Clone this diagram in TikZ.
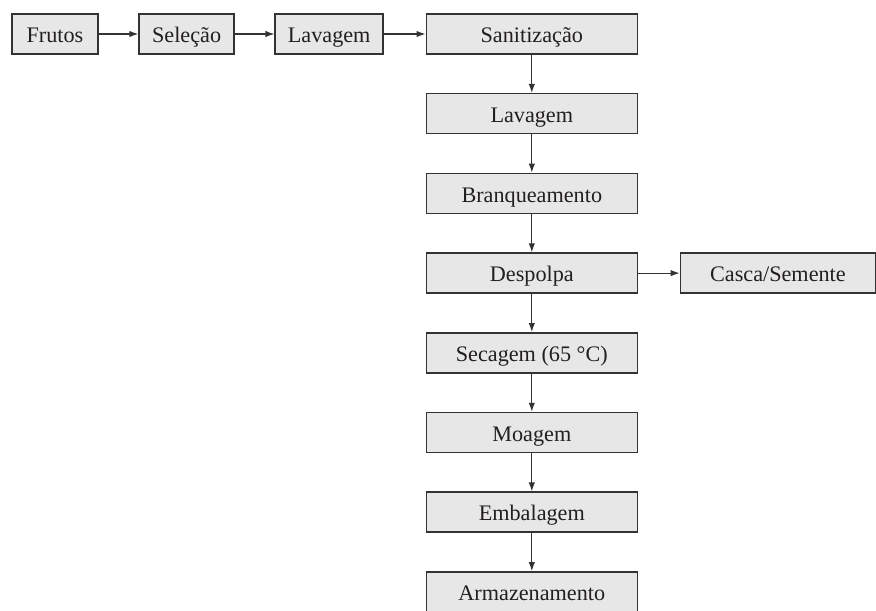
\documentclass[tikz,border=0pt]{standalone}
\usepackage{fontspec}
\setmainfont{Liberation Serif}
\usetikzlibrary{positioning, arrows.meta}
\definecolor{boxFill}{HTML}{E7E7E7}
\definecolor{boxLine}{HTML}{333333}
\definecolor{ink}{HTML}{231F20}
\tikzset{
    Box/.style = {
        draw=boxLine, fill=boxFill, line width=0.75pt,
        text=ink, inner sep=0pt,
        text height=10pt, text depth=1.3pt,
        minimum width=#1, minimum height=20pt,
        font=\fontsize{11.1}{12}\selectfont
    },
    Box/.default={105.5pt},
    Flow/.style = {
        line width=0.6pt, color=boxLine,
        -{Latex[length=4.5pt, width=3.2pt]}
    }
}

\begin{document}
\begin{tikzpicture}
    \useasboundingbox (0,0) rectangle (438pt,-305pt);
    % top row
    \node[Box=43pt] (Fr) at (27.5pt,-17pt) {Frutos};
    \node[Box=47.5pt, right=19.8pt of Fr] (Se) {Seleção};
    \node[Box=54pt, right=19.8pt of Se] (La) {Lavagem};
    \node[Box, right=20.8pt of La] (Sa) {Sanitização};
    % main column
    \node[Box, below=19.1pt of Sa] (Lv) {Lavagem};
    \node[Box, below=19.1pt of Lv] (Br) {Branqueamento};
    \node[Box, below=19.1pt of Br] (De) {Despolpa};
    \node[Box=97.5pt, right=20.8pt of De] (Cs) {Casca/Semente};
    \node[Box, below=19.1pt of De] (Sc) {Secagem (65 °C)};
    \node[Box, below=19.1pt of Sc] (Mo) {Moagem};
    \node[Box, below=19.1pt of Mo] (Em) {Embalagem};
    \node[Box, below=19.1pt of Em] (Ar) {Armazenamento};
    \draw [Flow] (Fr) -- (Se);
    \draw [Flow] (Se) -- (La);
    \draw [Flow] (La) -- (Sa);
    \draw [Flow] (Sa) -- (Lv);
    \draw [Flow] (Lv) -- (Br);
    \draw [Flow] (Br) -- (De);
    \draw [Flow] (De) -- (Cs);
    \draw [Flow] (De) -- (Sc);
    \draw [Flow] (Sc) -- (Mo);
    \draw [Flow] (Mo) -- (Em);
    \draw [Flow] (Em) -- (Ar);
\end{tikzpicture}
\end{document}
